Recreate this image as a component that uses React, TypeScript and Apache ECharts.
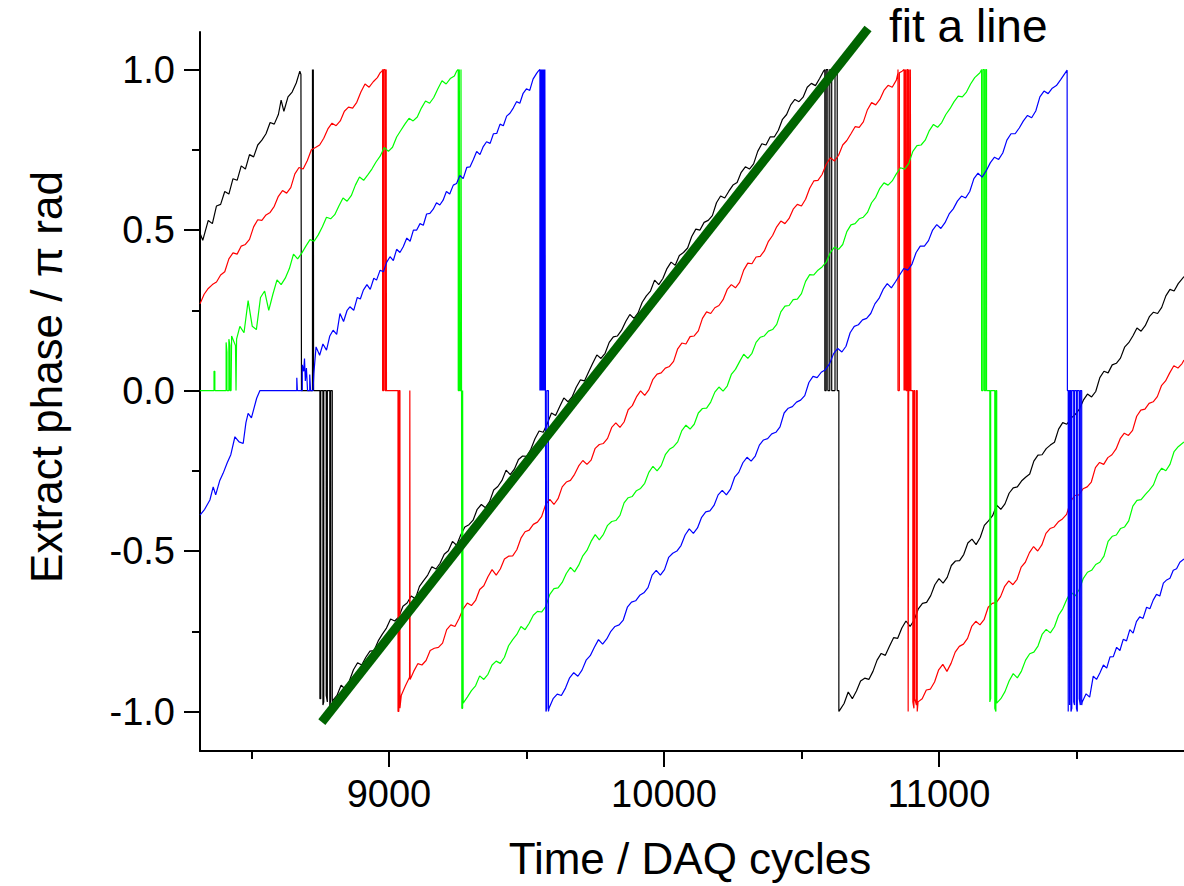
import React, { useEffect, useRef } from 'react';
import * as echarts from 'echarts';

const xMajorTicks = [9000, 10000, 11000];
const xMinorTicks = [8500, 9500, 10500, 11500];
const yMajorTicks = [-1, -0.5, 0, 0.5, 1];
const yMinorTicks = [-0.75, -0.25, 0.25, 0.75];

const blackPhase = [
  [8313,0.49],[8323,0.468],[8343,0.53],[8358,0.52],[8373,0.575],[8388,0.58],[8403,0.62],[8418,0.612],[8433,0.66],[8448,0.655],[8463,0.70],[8478,0.69],[8493,0.735],[8508,0.728],[8523,0.765],[8538,0.78],[8553,0.80],[8568,0.835],[8583,0.83],[8598,0.86],[8608,0.905],[8618,0.87],[8633,0.915],[8648,0.93],[8663,0.958],[8676,0.995],[8680,0.985],
  [8682,0],[8722,0],[8722,1],[8723,1],[8723,0],[8725,0],[8725,1],[8726,1],[8726,0],[8749,0],[8749,-0.96],[8752,-0.96],[8752,0],[8760,0],[8760,-0.98],[8763,-0.97],[8763,0],[8772,0],[8772,-0.95],[8776,-0.97],[8776,0],[8785,0],[8785,-0.99],[8788,-0.96],[8788,0],[8794,0],[8794,-0.97],
  [8796,-0.965],[8811,-0.95],[8826,-0.918],[8841,-0.93],[8856,-0.905],[8871,-0.87],[8886,-0.848],[8901,-0.855],[8916,-0.831],[8931,-0.812],[8946,-0.81],[8961,-0.78],[8976,-0.759],[8991,-0.74],[9006,-0.712],[9021,-0.718],[9036,-0.705],[9051,-0.672],[9066,-0.662],[9081,-0.64],[9096,-0.649],[9111,-0.61],[9126,-0.592],[9141,-0.575],[9156,-0.549],[9171,-0.556],[9186,-0.538],[9201,-0.51],[9216,-0.499],[9231,-0.47],[9246,-0.482],[9261,-0.45],[9276,-0.425],[9291,-0.418],[9306,-0.404],[9321,-0.37],[9336,-0.355],[9351,-0.365],[9366,-0.346],[9381,-0.31],[9396,-0.299],[9411,-0.28],[9426,-0.248],[9441,-0.262],[9456,-0.245],[9471,-0.215],[9486,-0.204],[9501,-0.205],[9516,-0.183],[9531,-0.15],[9546,-0.126],[9561,-0.13],[9576,-0.103],[9591,-0.07],[9606,-0.078],[9621,-0.05],[9636,-0.023],[9651,-0.035],[9666,-0.02],[9681,0.01],[9696,0.033],[9711,0.03],[9726,0.058],[9741,0.085],[9756,0.111],[9771,0.1],[9786,0.116],[9801,0.15],[9816,0.167],[9831,0.17],[9846,0.188],[9861,0.215],[9876,0.237],[9891,0.225],[9906,0.242],[9921,0.275],[9936,0.295],[9951,0.31],[9966,0.344],[9981,0.33],[9996,0.349],[10011,0.38],[10026,0.4],[10041,0.39],[10056,0.421],[10071,0.43],[10086,0.444],[10101,0.48],[10116,0.503],[10131,0.5],[10146,0.524],[10161,0.53],[10176,0.545],[10191,0.585],[10206,0.606],[10221,0.6],[10236,0.621],[10251,0.64],[10266,0.648],[10281,0.68],[10296,0.697],[10311,0.69],[10326,0.706],[10341,0.745],[10356,0.769],[10371,0.765],[10386,0.79],[10401,0.79],[10416,0.811],[10431,0.845],[10446,0.86],[10461,0.89],[10476,0.907],[10491,0.9],[10506,0.914],[10521,0.945],[10536,0.957],[10551,0.95],[10566,0.972],[10580,0.995],
  [10585,1],[10585,0],[10590,0],[10590,1],[10596,1],[10596,0],[10603,0],[10603,1],[10610,1],[10610,0],[10622,0],[10622,0.99],[10630,0.99],[10630,0],[10636,0],[10636,-1],
  [10640,-0.995],[10655,-0.975],[10670,-0.939],[10685,-0.96],[10700,-0.936],[10715,-0.905],[10730,-0.896],[10745,-0.9],[10760,-0.875],[10775,-0.84],[10790,-0.819],[10805,-0.825],[10820,-0.797],[10835,-0.77],[10850,-0.772],[10865,-0.74],[10880,-0.718],[10895,-0.735],[10910,-0.715],[10925,-0.68],[10940,-0.663],[10955,-0.66],[10970,-0.639],[10985,-0.605],[11000,-0.586],[11015,-0.6],[11030,-0.582],[11045,-0.545],[11060,-0.531],[11075,-0.53],[11090,-0.511],[11105,-0.475],[11120,-0.463],[11135,-0.48],[11150,-0.458],[11165,-0.42],[11180,-0.406],[11195,-0.39],[11210,-0.357],[11225,-0.37],[11240,-0.353],[11255,-0.32],[11270,-0.303],[11285,-0.3],[11300,-0.282],[11315,-0.27],[11330,-0.26],[11345,-0.22],[11360,-0.201],[11375,-0.2],[11390,-0.181],[11405,-0.17],[11420,-0.161],[11435,-0.12],[11450,-0.1],[11465,-0.105],[11480,-0.086],[11495,-0.075],[11510,-0.059],[11525,-0.03],[11540,-0.011],[11555,-0.02],[11570,-0.003],[11585,0.04],[11600,0.06],[11615,0.055],[11630,0.08],[11645,0.085],[11660,0.101],[11675,0.135],[11690,0.149],[11705,0.17],[11720,0.195],[11735,0.185],[11750,0.202],[11765,0.23],[11780,0.244],[11795,0.24],[11810,0.259],[11825,0.295],[11840,0.315],[11855,0.31],[11870,0.333],[11891,0.355]
];

const redPhase = [
  [8313,0.27],[8328,0.3],[8343,0.318],[8358,0.33],[8373,0.338],[8388,0.36],[8403,0.37],[8418,0.41],[8433,0.429],[8448,0.425],[8463,0.45],[8478,0.455],[8493,0.471],[8508,0.51],[8523,0.532],[8538,0.53],[8553,0.547],[8568,0.555],[8583,0.574],[8598,0.605],[8613,0.623],[8628,0.615],[8643,0.632],[8658,0.675],[8673,0.695],[8688,0.69],[8703,0.716],[8718,0.75],[8733,0.757],[8748,0.765],[8763,0.786],[8778,0.815],[8793,0.833],[8808,0.825],[8823,0.84],[8838,0.87],[8853,0.883],[8868,0.88],[8883,0.898],[8898,0.93],[8913,0.955],[8928,0.945],[8943,0.962],[8958,0.975],[8968,0.99],[8975,0.995],
  [8977,1],[8977,0],[8981,0],[8981,1],[8986,1],[8986,0],[8990,0],[8990,1],[8991,1],[8991,0],[9033,0],[9033,-1],[9036,-1],[9036,0],[9040,0],[9040,-0.99],
  [9045,-0.949],[9060,-0.92],[9075,-0.893],[9076,0],[9077,-0.9],[9090,-0.875],[9105,-0.851],[9120,-0.855],[9135,-0.841],[9150,-0.81],[9165,-0.803],[9180,-0.8],[9195,-0.787],[9210,-0.745],[9225,-0.73],[9240,-0.735],[9255,-0.71],[9270,-0.68],[9285,-0.662],[9300,-0.67],[9315,-0.654],[9330,-0.62],[9345,-0.608],[9360,-0.58],[9375,-0.558],[9390,-0.575],[9405,-0.556],[9420,-0.525],[9435,-0.516],[9450,-0.515],[9465,-0.496],[9480,-0.46],[9495,-0.44],[9510,-0.435],[9525,-0.417],[9540,-0.41],[9555,-0.393],[9570,-0.355],[9585,-0.339],[9600,-0.355],[9615,-0.337],[9630,-0.3],[9645,-0.285],[9660,-0.28],[9675,-0.261],[9690,-0.235],[9705,-0.218],[9720,-0.23],[9735,-0.217],[9750,-0.18],[9765,-0.168],[9780,-0.165],[9795,-0.149],[9810,-0.115],[9825,-0.101],[9840,-0.115],[9855,-0.098],[9870,-0.06],[9885,-0.047],[9900,-0.02],[9915,-0.001],[9930,-0.015],[9945,0.002],[9960,0.035],[9975,0.051],[9990,0.055],[10005,0.07],[10020,0.075],[10035,0.091],[10050,0.13],[10065,0.148],[10080,0.145],[10095,0.168],[10110,0.17],[10125,0.186],[10140,0.225],[10155,0.245],[10170,0.24],[10185,0.258],[10200,0.265],[10215,0.283],[10230,0.315],[10245,0.33],[10260,0.32],[10275,0.337],[10290,0.375],[10305,0.397],[10320,0.395],[10335,0.416],[10350,0.418],[10365,0.435],[10380,0.465],[10395,0.483],[10410,0.51],[10425,0.528],[10440,0.52],[10455,0.536],[10470,0.565],[10485,0.58],[10500,0.575],[10515,0.596],[10530,0.63],[10545,0.653],[10560,0.655],[10575,0.673],[10590,0.705],[10605,0.725],[10620,0.715],[10635,0.733],[10650,0.765],[10665,0.779],[10680,0.8],[10695,0.822],[10710,0.82],[10725,0.837],[10740,0.875],[10755,0.897],[10770,0.89],[10785,0.907],[10800,0.935],[10815,0.951],[10830,0.945],[10845,0.967],[10851,0.99],
  [10851,1],[10851,0],[10856,0],[10856,0.99],[10866,0.995],[10873,1],[10873,0],[10875,0],[10875,1],[10877,1],[10877,0],[10879,0],[10879,1],[10881,1],[10881,0],[10884,0],[10884,1],[10887,1],[10887,0],[10888,0],[10888,-1],[10890,-1],[10890,0],[10891,0],[10891,1],[10893,1],[10893,0],[10896,0],[10896,1],[10898,1],[10898,0],[10905,0],[10905,-0.97],[10909,-0.99],[10909,0],[10912,0],[10912,-0.96],[10918,-0.98],[10918,0],[10921,0],[10921,-1],
  [10924,-0.97],[10939,-0.96],[10954,-0.933],[10969,-0.93],[10984,-0.908],[10999,-0.87],[11014,-0.853],[11029,-0.875],[11044,-0.85],[11059,-0.815],[11074,-0.797],[11089,-0.79],[11104,-0.772],[11119,-0.735],[11134,-0.719],[11149,-0.73],[11164,-0.714],[11179,-0.675],[11194,-0.663],[11209,-0.66],[11224,-0.642],[11239,-0.61],[11254,-0.593],[11269,-0.605],[11284,-0.588],[11299,-0.55],[11314,-0.535],[11329,-0.505],[11344,-0.486],[11359,-0.5],[11374,-0.481],[11389,-0.445],[11404,-0.43],[11419,-0.425],[11434,-0.409],[11449,-0.4],[11464,-0.386],[11479,-0.345],[11494,-0.327],[11509,-0.325],[11524,-0.306],[11539,-0.3],[11554,-0.285],[11569,-0.24],[11584,-0.224],[11599,-0.23],[11614,-0.209],[11629,-0.2],[11644,-0.182],[11659,-0.15],[11674,-0.133],[11689,-0.14],[11704,-0.124],[11719,-0.08],[11734,-0.061],[11749,-0.058],[11764,-0.04],[11779,-0.035],[11794,-0.019],[11809,0.015],[11824,0.03],[11839,0.055],[11854,0.077],[11869,0.07],[11884,0.084],[11891,0.095]
];

const greenPhase = [
  [8313,0],[8364,0],[8364,0.06],[8367,0.06],[8367,0],[8408,0],[8408,0.15],[8411,0.12],[8411,0],[8418,0],[8418,0.16],[8422,0.14],[8422,0],[8426,0],
  [8428,0.17],[8442,0.14],[8444,0],[8446,0.16],[8458,0.2],[8473,0.18],[8488,0.28],[8503,0.2],[8518,0.19],[8533,0.29],[8548,0.31],[8563,0.25],[8578,0.3],[8593,0.345],[8608,0.33],[8623,0.35],[8638,0.38],[8653,0.425],[8668,0.41],[8683,0.428],[8698,0.45],[8713,0.47],[8728,0.465],[8743,0.485],[8758,0.51],[8773,0.54],[8788,0.535],[8803,0.548],[8818,0.575],[8833,0.6],[8848,0.59],[8863,0.607],[8878,0.64],[8893,0.665],[8908,0.655],[8923,0.672],[8938,0.69],[8953,0.712],[8968,0.73],[8983,0.757],[8998,0.745],[9013,0.758],[9028,0.79],[9043,0.81],[9058,0.83],[9073,0.848],[9088,0.84],[9103,0.852],[9118,0.88],[9133,0.902],[9148,0.895],[9163,0.913],[9178,0.94],[9193,0.965],[9208,0.955],[9223,0.972],[9238,0.98],[9246,0.995],
  [9252,1],[9252,0],[9256,0],[9256,1],[9258,1],[9258,0],[9262,0],[9262,1],[9264,1],[9264,0],[9265,0],[9265,-0.99],[9268,-0.99],[9268,0],[9270,0],[9270,-0.974],
  [9285,-0.955],[9300,-0.935],[9315,-0.92],[9330,-0.889],[9345,-0.9],[9360,-0.884],[9375,-0.855],[9390,-0.843],[9405,-0.85],[9420,-0.831],[9435,-0.795],[9450,-0.776],[9465,-0.76],[9480,-0.735],[9495,-0.745],[9510,-0.725],[9525,-0.7],[9540,-0.688],[9555,-0.69],[9570,-0.673],[9585,-0.635],[9600,-0.617],[9615,-0.615],[9630,-0.598],[9645,-0.57],[9660,-0.551],[9675,-0.565],[9690,-0.544],[9705,-0.515],[9720,-0.498],[9735,-0.47],[9750,-0.449],[9765,-0.465],[9780,-0.448],[9795,-0.42],[9810,-0.408],[9825,-0.405],[9840,-0.389],[9855,-0.35],[9870,-0.334],[9885,-0.33],[9900,-0.312],[9915,-0.305],[9930,-0.289],[9945,-0.255],[9960,-0.236],[9975,-0.25],[9990,-0.234],[10005,-0.2],[10020,-0.183],[10035,-0.175],[10050,-0.16],[10065,-0.125],[10080,-0.108],[10095,-0.12],[10110,-0.105],[10125,-0.07],[10140,-0.056],[10155,-0.055],[10170,-0.036],[10185,-0.005],[10200,0.011],[10215,-0.002],[10230,0.014],[10245,0.05],[10260,0.066],[10275,0.09],[10290,0.113],[10305,0.1],[10320,0.116],[10335,0.15],[10350,0.166],[10365,0.17],[10380,0.185],[10395,0.19],[10410,0.206],[10425,0.245],[10440,0.263],[10455,0.265],[10470,0.283],[10485,0.285],[10500,0.302],[10515,0.34],[10530,0.361],[10545,0.36],[10560,0.375],[10575,0.385],[10590,0.4],[10605,0.43],[10620,0.447],[10635,0.44],[10650,0.455],[10665,0.495],[10680,0.516],[10695,0.52],[10710,0.535],[10725,0.54],[10740,0.555],[10755,0.585],[10770,0.602],[10785,0.63],[10800,0.647],[10815,0.64],[10830,0.653],[10845,0.675],[10860,0.694],[10875,0.69],[10890,0.707],[10905,0.745],[10920,0.763],[10935,0.765],[10950,0.78],[10965,0.81],[10980,0.829],[10995,0.82],[11010,0.835],[11025,0.86],[11040,0.878],[11055,0.9],[11070,0.917],[11085,0.915],[11100,0.93],[11115,0.955],[11130,0.975],[11149,0.99],
  [11155,1],[11155,0],[11160,0],[11160,1],[11165,1],[11165,0],[11170,0],[11170,1],[11173,1],[11173,0],[11185,0],[11185,-0.97],[11188,-0.96],[11188,0],[11203,0],[11203,-0.99],[11207,-1],[11207,0],[11210,0],[11210,-0.974],
  [11225,-0.96],[11240,-0.938],[11255,-0.905],[11270,-0.882],[11285,-0.895],[11300,-0.874],[11315,-0.84],[11330,-0.82],[11345,-0.815],[11360,-0.796],[11375,-0.76],[11390,-0.744],[11405,-0.755],[11420,-0.736],[11435,-0.7],[11450,-0.68],[11465,-0.65],[11480,-0.628],[11495,-0.64],[11510,-0.62],[11525,-0.585],[11540,-0.566],[11555,-0.56],[11570,-0.542],[11585,-0.535],[11600,-0.516],[11615,-0.47],[11630,-0.454],[11645,-0.45],[11660,-0.43],[11675,-0.425],[11690,-0.406],[11705,-0.36],[11720,-0.342],[11735,-0.34],[11750,-0.324],[11765,-0.31],[11780,-0.294],[11795,-0.26],[11810,-0.242],[11825,-0.25],[11840,-0.23],[11855,-0.19],[11870,-0.175],[11891,-0.16]
];

const bluePhase = [
  [8313,-0.388],[8330,-0.37],[8349,-0.341],[8361,-0.3],[8370,-0.325],[8385,-0.28],[8397,-0.258],[8412,-0.225],[8425,-0.2],[8440,-0.144],[8455,-0.16],[8470,-0.165],[8480,-0.1],[8488,-0.071],[8500,-0.085],[8519,-0.024],[8531,0],
  [8665,0],[8665,0.04],[8667,0.04],[8667,0],[8685,0],[8685,0.08],[8690,0.06],[8693,0.1],[8696,0.03],[8700,0.07],[8704,0],[8712,0],[8712,0.05],[8715,0],[8724,0],
  [8727,0.054],[8735,0.136],[8748,0.11],[8760,0.145],[8773,0.126],[8785,0.17],[8797,0.188],[8810,0.175],[8822,0.24],[8835,0.215],[8848,0.25],[8858,0.261],[8872,0.25],[8885,0.29],[8896,0.285],[8907,0.313],[8920,0.33],[8932,0.315],[8945,0.35],[8955,0.344],[8968,0.375],[8980,0.37],[8992,0.4],[9004,0.417],[9016,0.405],[9028,0.44],[9040,0.43],[9052,0.448],[9065,0.475],[9077,0.465],[9089,0.5],[9101,0.5],[9113,0.52],[9125,0.515],[9137,0.55],[9149,0.552],[9161,0.565],[9173,0.585],[9185,0.578],[9197,0.593],[9209,0.62],[9221,0.612],[9234,0.64],[9246,0.645],[9258,0.67],[9270,0.66],[9283,0.695],[9295,0.697],[9307,0.72],[9319,0.745],[9331,0.735],[9343,0.76],[9355,0.775],[9368,0.77],[9380,0.8],[9392,0.801],[9404,0.83],[9416,0.825],[9428,0.855],[9440,0.864],[9452,0.88],[9464,0.9],[9476,0.895],[9488,0.926],[9500,0.94],[9512,0.935],[9524,0.97],[9537,0.988],[9543,0.995],
  [9549,1],[9549,0],[9551,0],[9551,1],[9553,1],[9553,0],[9555,0],[9555,1],[9557,1],[9557,0],[9559,0],[9559,1],[9561,1],[9561,0],[9563,0],[9563,1],[9565,1],[9565,0],[9567,0],[9567,1],[9569,1],[9569,0],[9571,0],[9571,-1],[9574,-0.99],[9574,0],[9580,0],[9580,-1],
  [9582,-0.99],[9597,-0.96],[9612,-0.946],[9627,-0.95],[9642,-0.927],[9657,-0.895],[9672,-0.879],[9687,-0.89],[9702,-0.871],[9717,-0.84],[9732,-0.826],[9747,-0.8],[9762,-0.776],[9777,-0.79],[9792,-0.774],[9807,-0.75],[9822,-0.735],[9837,-0.73],[9852,-0.715],[9867,-0.675],[9882,-0.659],[9897,-0.655],[9912,-0.638],[9927,-0.63],[9942,-0.614],[9957,-0.575],[9972,-0.56],[9987,-0.575],[10002,-0.558],[10017,-0.52],[10032,-0.507],[10047,-0.5],[10062,-0.483],[10077,-0.45],[10092,-0.431],[10107,-0.445],[10122,-0.428],[10137,-0.395],[10152,-0.378],[10167,-0.375],[10182,-0.358],[10197,-0.325],[10212,-0.311],[10227,-0.325],[10242,-0.307],[10257,-0.27],[10272,-0.255],[10287,-0.225],[10302,-0.208],[10317,-0.22],[10332,-0.204],[10347,-0.17],[10362,-0.154],[10377,-0.15],[10392,-0.135],[10407,-0.13],[10422,-0.113],[10437,-0.07],[10452,-0.055],[10467,-0.05],[10482,-0.036],[10497,-0.03],[10512,-0.016],[10527,0.025],[10542,0.044],[10557,0.04],[10572,0.057],[10587,0.065],[10602,0.083],[10617,0.115],[10632,0.131],[10647,0.12],[10662,0.138],[10677,0.18],[10692,0.2],[10707,0.205],[10722,0.22],[10737,0.225],[10752,0.24],[10767,0.27],[10782,0.287],[10797,0.315],[10812,0.333],[10827,0.32],[10842,0.339],[10857,0.36],[10872,0.38],[10887,0.375],[10902,0.394],[10917,0.43],[10932,0.45],[10947,0.45],[10962,0.467],[10977,0.5],[10992,0.517],[11007,0.505],[11022,0.523],[11037,0.55],[11052,0.566],[11067,0.59],[11082,0.606],[11097,0.6],[11112,0.62],[11127,0.66],[11142,0.677],[11157,0.665],[11172,0.685],[11187,0.71],[11202,0.727],[11217,0.72],[11232,0.74],[11247,0.78],[11262,0.8],[11277,0.8],[11292,0.818],[11307,0.84],[11322,0.857],[11337,0.85],[11352,0.871],[11367,0.915],[11382,0.933],[11397,0.925],[11412,0.942],[11427,0.95],[11442,0.968],[11466,0.998],
  [11467,1],[11467,0],[11470,0],[11470,-1],[11472,-1],[11472,0],[11475,0],[11475,-0.98],[11477,-0.98],[11477,0],[11480,0],[11480,-1],[11483,-0.99],[11483,0],[11490,0],[11490,-0.97],[11493,-0.98],[11493,0],[11500,0],[11500,-0.99],[11503,-1],[11503,0],[11510,0],[11510,-0.96],[11514,-0.98],[11514,0],[11519,0],[11519,-0.98],
  [11521,-0.97],[11535,-0.945],[11548,-0.955],[11561,-0.89],[11573,-0.9],[11585,-0.88],[11598,-0.855],[11610,-0.865],[11622,-0.83],[11634,-0.829],[11646,-0.8],[11658,-0.81],[11670,-0.775],[11682,-0.78],[11694,-0.745],[11706,-0.756],[11718,-0.72],[11730,-0.705],[11742,-0.71],[11755,-0.675],[11767,-0.68],[11779,-0.653],[11791,-0.635],[11803,-0.64],[11816,-0.6],[11828,-0.59],[11840,-0.585],[11852,-0.56],[11864,-0.555],[11876,-0.535],[11891,-0.525]
];

const fitLine = [[8756, -1.033], [10742, 1.128]];

const X_MIN = 8313;
const X_MAX = 11891;
const Y_MIN = -1.123;
const Y_MAX = 1.117;
const FONT = '"Liberation Sans", Arial, Helvetica, sans-serif';

export default function App() {
  const ref = useRef<HTMLDivElement>(null);
  useEffect(() => {
    const chart = echarts.init(ref.current as HTMLDivElement, null, { renderer: 'svg' });
    const axisLine = { show: true, onZero: false, lineStyle: { color: '#000', width: 2 } };
    const mk = (name: string, data: number[][], color: string) => ({
      name, type: 'line', data, showSymbol: false, symbol: 'none', silent: true,
      xAxisIndex: 0, yAxisIndex: 0,
      lineStyle: { color, width: 1.2 }, clip: true,
    });
    chart.setOption({
      animation: false,
      backgroundColor: '#fff',
      grid: { left: 200, top: 32, right: 0, bottom: 135, containLabel: false, outerBoundsMode: 'none' },
      xAxis: [
        {
          type: 'value', min: X_MIN, max: X_MAX, position: 'bottom',
          axisLine,
          axisTick: { show: true, customValues: xMajorTicks, length: 16, inside: false, lineStyle: { color: '#000', width: 2 } },
          axisLabel: {
            show: true, customValues: xMajorTicks, margin: 24, fontSize: 38, color: '#000', fontFamily: FONT,
            formatter: (v: number) => String(Math.round(v)),
          },
          splitLine: { show: false },
        },
        {
          type: 'value', min: X_MIN, max: X_MAX, position: 'bottom',
          axisLine: { show: false, onZero: false },
          axisTick: { show: true, customValues: xMinorTicks, length: 8, lineStyle: { color: '#000', width: 2 } },
          axisLabel: { show: false },
          splitLine: { show: false },
        },
      ],
      yAxis: [
        {
          type: 'value', min: Y_MIN, max: Y_MAX, position: 'left',
          axisLine,
          axisTick: { show: true, customValues: yMajorTicks, length: 16, lineStyle: { color: '#000', width: 2 } },
          axisLabel: {
            show: true, customValues: yMajorTicks, margin: 25, fontSize: 38, color: '#000', fontFamily: FONT,
            formatter: (v: number) => v.toFixed(1),
          },
          splitLine: { show: false },
        },
        {
          type: 'value', min: Y_MIN, max: Y_MAX, position: 'left',
          axisLine: { show: false, onZero: false },
          axisTick: { show: true, customValues: yMinorTicks, length: 8, lineStyle: { color: '#000', width: 2 } },
          axisLabel: { show: false },
          splitLine: { show: false },
        },
      ],
      series: [
        mk('black', blackPhase, '#000000'),
        mk('red', redPhase, '#ff0000'),
        mk('green', greenPhase, '#00ff00'),
        mk('blue', bluePhase, '#0000ff'),
        {
          name: 'fit', type: 'line', data: fitLine, showSymbol: false, symbol: 'none', silent: true,
          xAxisIndex: 0, yAxisIndex: 0, clip: false, z: 5,
          lineStyle: { color: '#006400', width: 9, cap: 'butt' },
        },
      ],
      graphic: [
        {
          type: 'text', x: 889, y: 26,
          style: { text: 'fit a line', font: `46px ${FONT}`, fill: '#000', align: 'left', verticalAlign: 'middle', textAlign: 'left', textVerticalAlign: 'middle' },
        },
        {
          type: 'text', x: 690, y: 858,
          style: { text: 'Time / DAQ cycles', font: `44px ${FONT}`, fill: '#000', align: 'center', verticalAlign: 'middle', textAlign: 'center', textVerticalAlign: 'middle' },
        },
        {
          type: 'text', x: 46, y: 377, rotation: Math.PI / 2,
          style: { text: 'Extract phase / π rad', font: `44px ${FONT}`, fill: '#000', align: 'center', verticalAlign: 'middle', textAlign: 'center', textVerticalAlign: 'middle' },
        },
      ],
    });
    return () => chart.dispose();
  }, []);
  return (
    <div
      ref={ref}
      style={{ position: 'absolute', left: 0, top: 0, width: 1184, height: 886, background: '#fff' }}
    />
  );
}
